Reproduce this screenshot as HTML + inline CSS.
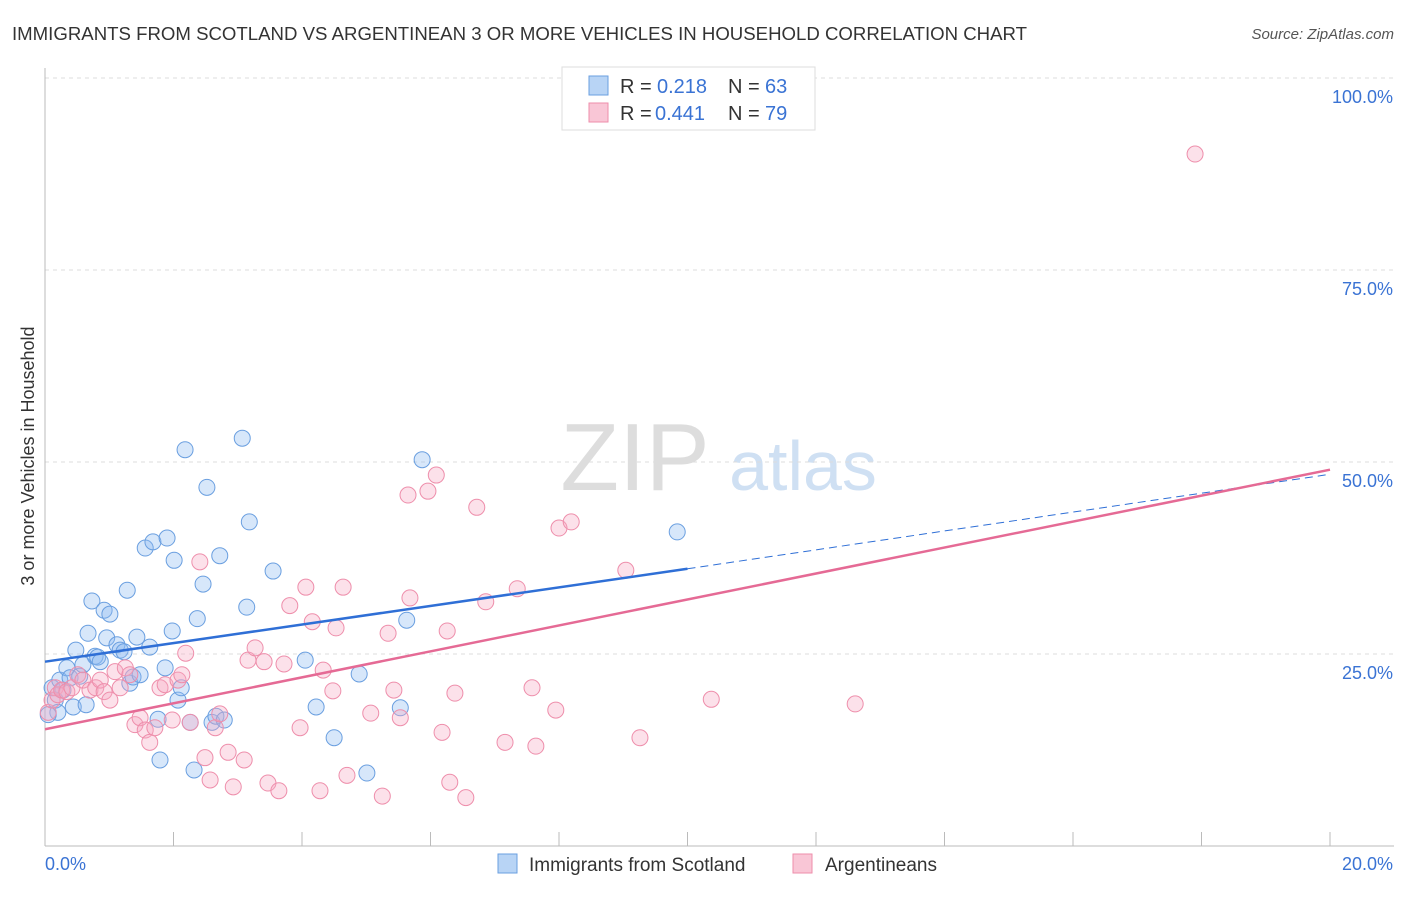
<!DOCTYPE html>
<html><head><meta charset="utf-8">
<style>
body{margin:0;background:#fff;font-family:"Liberation Sans",sans-serif;}
svg text{font-family:"Liberation Sans",sans-serif;}
</style></head>
<body>
<svg id="chart" width="1406" height="892" xmlns="http://www.w3.org/2000/svg">
<text x="12" y="40" font-size="18" fill="#333" textLength="1015" lengthAdjust="spacingAndGlyphs">IMMIGRANTS FROM SCOTLAND VS ARGENTINEAN 3 OR MORE VEHICLES IN HOUSEHOLD CORRELATION CHART</text>
<text x="1394" y="39" font-size="15" fill="#555" font-style="italic" text-anchor="end">Source: ZipAtlas.com</text>
<text x="34" y="456" font-size="18" fill="#333" text-anchor="middle" transform="rotate(-90 34 456)">3 or more Vehicles in Household</text>
<g>
<text x="635" y="490" font-size="96" fill="#ddd" font-family="Liberation Serif" text-anchor="middle">ZIP</text>
<text x="803" y="490" font-size="70" fill="#cfe0f3" text-anchor="middle">atlas</text>
</g>
<g id="grid"></g>
<g id="axes"></g>
<g id="marks"></g>
<g id="trends"></g>
<g>
<rect x="562" y="67" width="253" height="63" fill="#fff" stroke="#ddd"/>
<rect x="589" y="76" width="19" height="19" fill="#b8d4f5" stroke="#6a9fe0"/>
<rect x="589" y="103" width="19" height="19" fill="#f9c6d6" stroke="#ee8eab"/>
<text y="93" font-size="20" fill="#333"><tspan x="620">R =</tspan><tspan x="657" fill="#3a73d4">0.218</tspan><tspan x="728">N =</tspan><tspan x="765" fill="#3a73d4">63</tspan></text>
<text y="120" font-size="20" fill="#333"><tspan x="620">R =</tspan><tspan x="655" fill="#3a73d4">0.441</tspan><tspan x="728">N =</tspan><tspan x="765" fill="#3a73d4">79</tspan></text>
</g>
<g>
<rect x="498" y="854" width="19" height="19" fill="#b8d4f5" stroke="#6a9fe0"/>
<text x="529" y="871" font-size="19" fill="#333">Immigrants from Scotland</text>
<rect x="793" y="854" width="19" height="19" fill="#f9c6d6" stroke="#ee8eab"/>
<text x="825" y="871" font-size="19" fill="#333">Argentineans</text>
</g>
</svg>
<script>
const blueX=[.11,.16,.20,.23,.28,.34,.39,.44,.48,.54,.59,.64,.67,.73,.78,.82,.86,.92,.96,1.01,1.12,1.17,1.23,1.28,1.32,1.37,1.43,1.48,1.56,1.63,1.68,1.76,1.79,1.87,1.90,1.98,2.01,2.07,2.12,2.18,2.26,2.32,2.37,2.46,2.52,2.60,2.66,2.72,2.79,3.07,3.14,3.18,3.55,4.05,4.22,4.50,4.89,5.01,5.53,5.63,5.87,9.84,.05];
const blueY=[20.6,19.0,17.4,21.6,20.3,23.2,21.9,18.1,25.5,22.1,23.6,18.4,27.7,31.9,24.7,24.6,24.0,30.7,27.1,30.2,26.2,25.5,25.3,33.3,21.2,22.0,27.2,22.3,38.8,25.9,39.6,16.5,11.2,23.2,40.1,28.0,37.2,19.0,20.6,51.6,16.1,9.9,29.6,34.1,46.7,16.1,16.9,37.8,16.4,53.1,31.1,42.2,35.8,24.2,18.1,14.1,22.4,9.5,18.0,29.4,50.3,40.9,17.1];
const pinkX=[.05,.11,.16,.20,.26,.34,.42,.51,.59,.70,.79,.86,.92,1.01,1.09,1.17,1.25,1.32,1.40,1.48,1.56,1.63,1.71,1.79,1.87,1.98,2.07,2.13,2.19,2.26,2.41,2.49,2.57,2.65,2.72,2.85,2.93,3.10,3.16,3.27,3.41,3.47,3.64,3.72,3.81,3.97,4.06,4.16,4.28,4.33,4.48,4.53,4.64,4.70,5.07,5.25,5.34,5.43,5.53,5.65,5.68,5.96,6.09,6.18,6.26,6.30,6.38,6.55,6.72,6.86,7.16,7.35,7.58,7.64,7.95,8.00,8.19,9.04,9.26,10.37,12.61,17.90];
const pinkY=[17.4,19.0,20.6,19.7,20.3,20.1,20.6,22.3,21.6,20.3,20.6,21.6,20.1,19.0,22.7,20.6,23.2,22.3,15.8,16.7,15.1,13.5,15.4,20.6,21.0,16.4,21.6,22.3,25.1,16.1,37.0,11.5,8.6,15.4,17.2,12.2,7.7,11.2,24.2,25.8,24.0,8.2,7.2,23.7,31.3,15.4,33.7,29.2,7.2,22.9,20.2,28.4,33.7,9.2,17.3,6.5,27.7,20.3,16.7,45.7,32.3,46.2,48.3,14.8,28.0,8.3,19.9,6.3,44.1,31.8,13.5,33.5,20.6,13.0,17.7,41.4,42.2,35.9,14.1,19.1,18.5,90.1];
const yTicks=[25,50,75,100];
const yTickLabels=["25.0%","50.0%","75.0%","100.0%"];
const xTicks=[0,1,2,3,4,5,6,7,8,9,10,11,12,13,14,15,16,17,18,19,20];
const blueTrend=[24.0,36.1,48.4]; // at x=0,10,20
const pinkTrend=[15.2,49.0];     // at x=0,20

const X=v=>45+v/20*1285;
const Y=v=>846-v/100*768;
const NS="http://www.w3.org/2000/svg";
function mk(tag,attrs,parent){const e=document.createElementNS(NS,tag);for(const k in attrs)e.setAttribute(k,attrs[k]);document.getElementById(parent).appendChild(e);return e;}

yTicks.forEach((t,i)=>{
 const l=mk('line',{x1:45,x2:1394,y1:Y(t),y2:Y(t),stroke:'#ddd','stroke-dasharray':'4,4'},'grid');
 
 
 const tx=mk('text',{x:1393,y:Y(t)+25,'font-size':18,fill:'#3a73d4','text-anchor':'end'},'grid');
 tx.textContent=yTickLabels[i];
 
 
});
const ax=mk('line',{x1:45,x2:1394,y1:846,y2:846,stroke:'#bbb'},'axes');


const ay=mk('line',{x1:45,x2:45,y1:68,y2:846,stroke:'#bbb'},'axes');


xTicks.forEach(t=>{if(t%2)return;
 const l=mk('line',{x1:X(t),x2:X(t),y1:832,y2:846,stroke:'#bbb'},'axes');
 
 
});
const x0=mk('text',{x:45,y:870,'font-size':18,fill:'#3a73d4'},'axes');x0.textContent='0.0%';


const x1=mk('text',{x:1393,y:870,'font-size':18,fill:'#3a73d4','text-anchor':'end'},'axes');x1.textContent='20.0%';



blueX.forEach((v,i)=>{
 const c=mk('circle',{cx:X(v),cy:Y(blueY[i]),r:8,fill:'rgba(140,185,240,0.35)',stroke:'#6a9fe0','stroke-width':1},'marks');
 
 
});
pinkX.forEach((v,i)=>{
 const c=mk('circle',{cx:X(v),cy:Y(pinkY[i]),r:8,fill:'rgba(245,170,195,0.35)',stroke:'#ee8eab','stroke-width':1},'marks');
 
 
});
const bt=mk('line',{x1:X(0),y1:Y(blueTrend[0]),x2:X(10),y2:Y(blueTrend[1]),stroke:'#2f6fd6','stroke-width':2.5},'trends');


const bd=mk('line',{x1:X(10),y1:Y(blueTrend[1]),x2:X(20),y2:Y(blueTrend[2]),stroke:'#2f6fd6','stroke-width':1,'stroke-dasharray':'8,5'},'trends');


const pt=mk('line',{x1:X(0),y1:Y(pinkTrend[0]),x2:X(20),y2:Y(pinkTrend[1]),stroke:'#e56a95','stroke-width':2.5},'trends');


</script>
</body></html>
